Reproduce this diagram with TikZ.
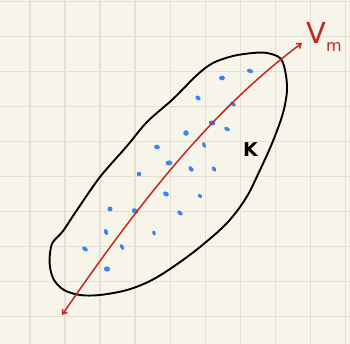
\documentclass[tikz,border=0pt]{standalone}
\usetikzlibrary{arrows.meta}
\usepackage{fontspec}
\setmainfont{DejaVu Sans}
\definecolor{paper}{HTML}{F7F5EA}
\definecolor{gridc}{HTML}{E2E1D4}
\definecolor{inkred}{HTML}{C3281E}
\definecolor{inkblue}{HTML}{3A84F2}
\tikzset{
  gridline/.style={gridc, line width=1.4pt},
  blob/.style={black, line width=1.9pt, line cap=round, line join=round},
  axis/.style={inkred, line width=1.5pt, {Straight Barb[length=4pt,width=6pt]}-{Straight Barb[length=4pt,width=6pt]}},
  pt/.style={fill=inkblue, draw=none},
  lbl/.style={inner sep=0pt}
}
\begin{document}
\begin{tikzpicture}[x=1pt,y=-1pt]
\useasboundingbox (0,0) rectangle (350,344);
\fill[paper] (0,0) rectangle (350,344);
\foreach \x in {30,65.05,100.1,135.15,170.2,205.25,240.3,275.35,310.4,345.45}
  \draw[gridline] (\x,0) -- (\x,344);
\foreach \y in {1.5,36.5,71.5,106.5,141.5,176.5,211.5,246.5,281.5,316.5}
  \draw[gridline] (0,\y) -- (350,\y);
% blob
\draw[blob] plot[smooth cycle, tension=0.55] coordinates {
 (267,53) (253,53) (233,56) (213,63) (197,75) (173,99) (147,122) (127,146)
 (100,177) (77,210) (63,231) (53,242) (50,253) (50,267) (54,280) (64,290)
 (80,295) (100,295) (127,290) (150,281) (173,267) (200,247) (227,223)
 (246,198) (260,170) (273,141) (283,113) (287,90) (285,70) (280,58)};
% points
\foreach \px/\py/\rx/\ry/\a in {
 250/71/3.2/2.0/20, 222/78/2.9/2.4/0, 198/98/2.9/2.1/40, 233/104/3.1/2.0/30,
 212/123/3.4/2.5/20, 227/129/3.0/1.9/30, 186/133/2.8/2.8/0, 204/145/3.0/1.7/70,
 157/147/2.9/2.3/10, 169/163/3.4/2.5/0, 191/169/3.2/2.0/50, 214/169/2.9/1.9/55,
 139/174/2.3/2.3/0, 166/194/3.1/2.3/30, 200/196/2.5/1.7/30, 110/209/2.5/2.5/0,
 135/211/3.4/2.5/30, 180/213/3.1/2.0/40, 154/233/2.5/1.7/70, 106/232/3.1/2.0/70,
 122/247/3.1/1.8/60, 85/249/3.2/2.0/35, 107/269/3.1/2.6/10}
  \fill[pt, rotate around={-\a:(\px,\py)}] (\px,\py) ellipse[x radius=\rx, y radius=\ry];
% axis
\coordinate (a0) at (62,315);
\coordinate (a1) at (302,43);
\draw[axis] (a0) .. controls (140,202) and (210,112) .. (a1);
\node[lbl, inkred, anchor=base west, font=\fontsize{29}{29}\selectfont] (vm) at (306,44) {V\raisebox{-8pt}{\fontsize{16}{16}\selectfont m}};
\node[lbl, black, anchor=base west, font=\fontsize{19}{19}\selectfont\bfseries] (k) at (243,157) {K};
\end{tikzpicture}
\end{document}
